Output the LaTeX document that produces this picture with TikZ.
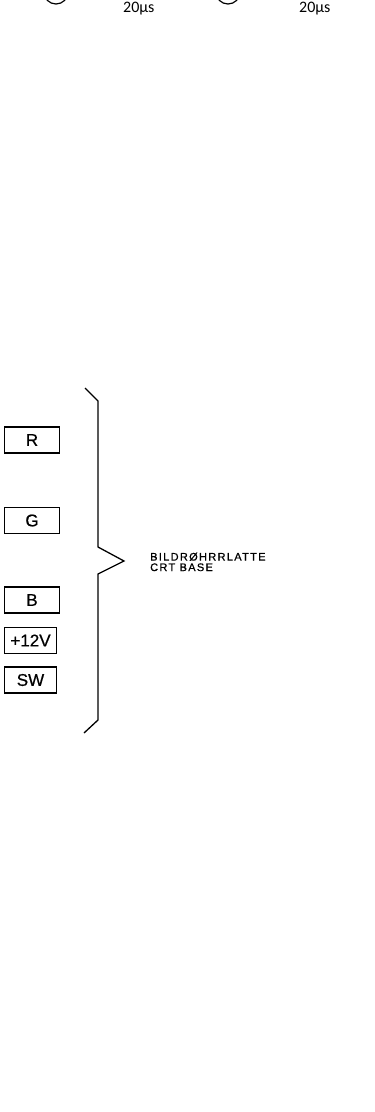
\documentclass[tikz,border=0pt]{standalone}
\usepackage{fontspec}
\setmainfont{Liberation Sans}
\newfontfamily\carl{Carlito}
\newfontfamily\lbl[LetterSpace=12,FakeBold=0.8]{Liberation Sans}
\newfontfamily\boxf[FakeBold=0.6]{Liberation Sans}
\begin{document}
\begin{tikzpicture}[x=1pt,y=-1pt,
  sig/.style={draw,line width=1.9pt,minimum height=26pt,inner sep=0pt,font=\boxf\fontsize{17}{17}\selectfont},
  brc/.style={line width=1.3pt,line join=miter},
  tm/.style={font=\carl\fontsize{16}{16}\selectfont,anchor=base west,inner sep=0pt}]
\useasboundingbox (0,0) rectangle (375,1112);
% top partial circles and labels
\draw[line width=1.2pt] (56,-8) circle (12);
\draw[line width=1.2pt] (228,-8) circle (12);
\node[tm] (t1) at (123,12) {20µs};
\node[tm] (t2) at (299,12) {20µs};
% signal boxes
\node[sig,minimum width=55pt] (R) at (32,440) {R};
\node[sig,minimum width=55pt] (G) at (32,520.5) {G};
\node[sig,minimum width=55pt] (B) at (32,600) {B};
\node[sig,minimum width=52pt] (V) at (30.5,640.5) {+12V};
\node[sig,minimum width=52pt] (SW) at (30.5,680) {SW};
% brace
\coordinate (b0) at (85,388);
\coordinate (b1) at (98,401);
\coordinate (b2) at (98,547);
\coordinate (tip) at (124,561);
\coordinate (b3) at (98,574);
\coordinate (b4) at (98,720);
\coordinate (b5) at (84,733);
\draw[brc] (b0) -- (b1) -- (b2) -- (tip) -- (b3) -- (b4) -- (b5);
\node[anchor=north west,inner sep=0pt,align=left,font=\lbl\fontsize{11}{10.5}\selectfont] (lab) at (150,552.5) {BILDRØHRRLATTE\\CRT BASE};
\end{tikzpicture}
\end{document}
